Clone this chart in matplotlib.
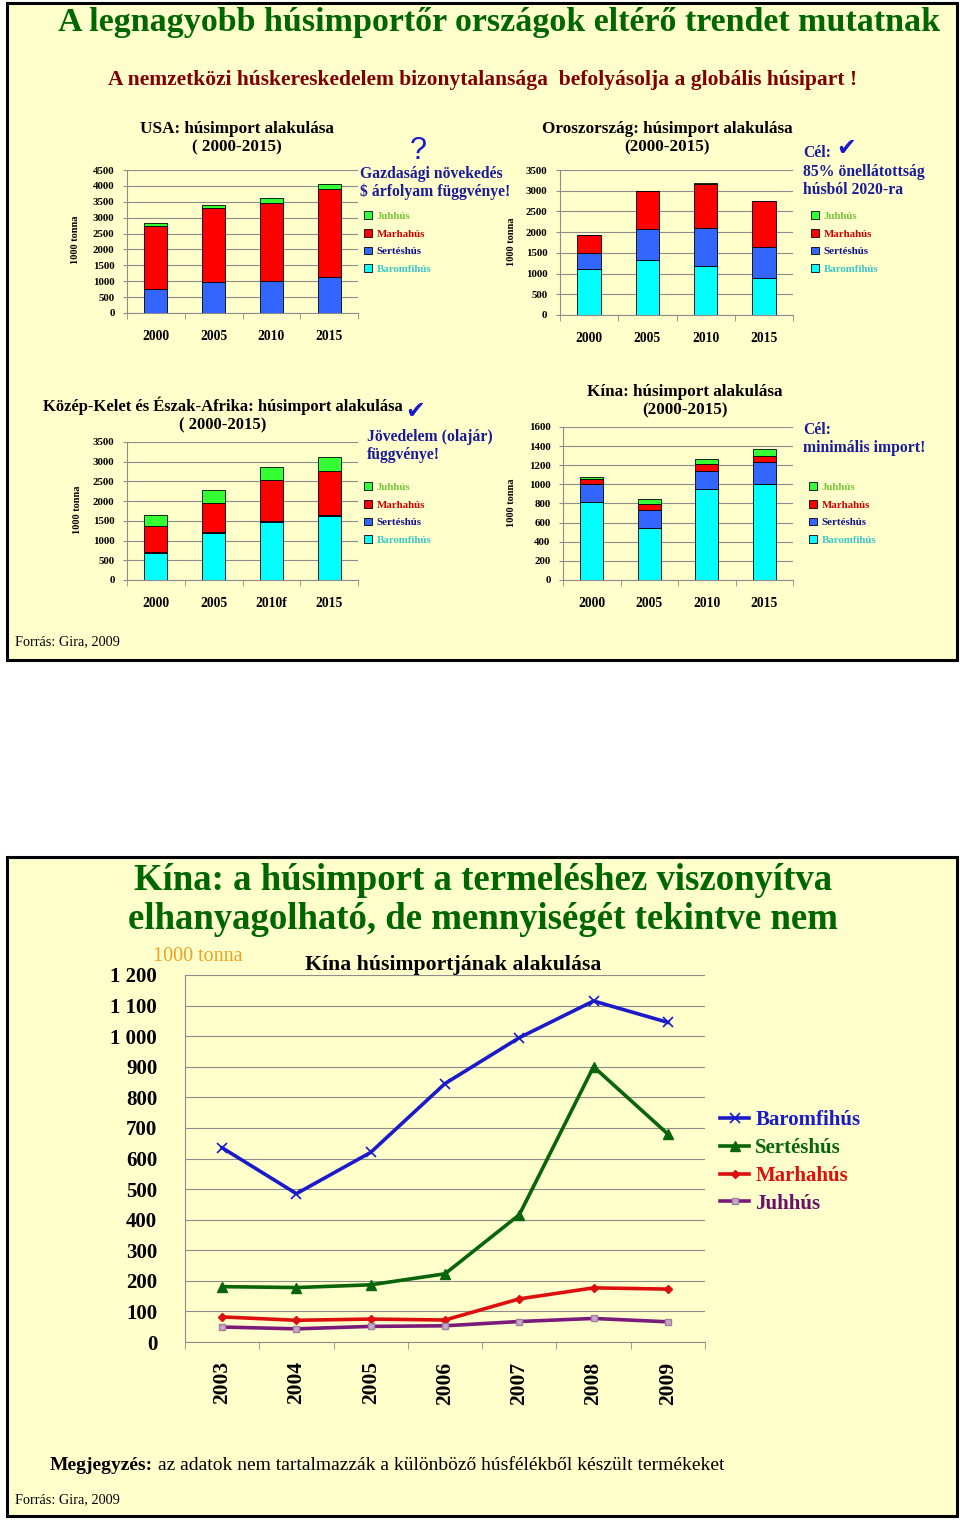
import matplotlib
matplotlib.use("Agg")
import matplotlib.pyplot as plt
from matplotlib.patches import Rectangle, Patch
from matplotlib.ticker import FuncFormatter
import numpy as np

plt.rcParams['font.family'] = ['Liberation Serif', 'DejaVu Sans']

W, H = 960, 1522

# Stacked bar data (1000 tonna)
bar_years = ['2000', '2005', '2010', '2015']
mena_years = ['2000', '2005', '2010f', '2015']
meat_names = ['Baromfihús', 'Sertéshús', 'Marhahús', 'Juhhús']

usa_baromfi = [0, 0, 0, 0]
usa_sertes = [750, 980, 1000, 1140]
usa_marha = [1980, 2310, 2470, 2750]
usa_juh = [100, 110, 140, 160]

ru_baromfi = [1100, 1320, 1190, 900]
ru_sertes = [400, 760, 920, 750]
ru_marha = [440, 920, 1060, 1110]
ru_juh = [0, 0, 10, 0]

mena_baromfi = [680, 1200, 1470, 1620]
mena_sertes = [20, 20, 20, 40]
mena_marha = [660, 740, 1040, 1100]
mena_juh = [280, 310, 340, 370]

cn_baromfi = [820, 540, 950, 1000]
cn_sertes = [180, 190, 190, 230]
cn_marha = [60, 60, 70, 70]
cn_juh = [20, 60, 60, 70]

# Line chart data: China meat import 2003-2009
line_years = ['2003', '2004', '2005', '2006', '2007', '2008', '2009']
line_baromfi = [635, 485, 620, 845, 995, 1115, 1045]
line_sertes = [181, 178, 187, 223, 416, 900, 680]
line_marha = [82, 71, 75, 72, 141, 177, 173]
line_juh = [49, 43, 51, 53, 67, 77, 66]

bar_colors = ['#00FFFF', '#3366FF', '#FF0000', '#33FF33']
label_colors = {'Juhhús': '#77C83A', 'Marhahús': '#D00000',
                'Sertéshús': '#10108C', 'Baromfihús': '#3CC8C8'}
bg = '#FFFFCC'
grid_c = '#8C8C8C'
blue_txt = '#1A1A9C'

fig = plt.figure(figsize=(W / 100, H / 100), dpi=100)
fig.patch.set_facecolor('white')

# panels
for (x0, y0, x1, y1) in [(7, 3, 957, 660), (7, 857, 957, 1516)]:
    fig.patches.append(Rectangle((x0 / W, 1 - y1 / H), (x1 - x0) / W, (y1 - y0) / H,
                                 transform=fig.transFigure, facecolor=bg,
                                 edgecolor='black', linewidth=2.2, zorder=-10))


def ftext(x, y, s, **kw):
    kw.setdefault('ha', 'center')
    kw.setdefault('va', 'center')
    return fig.text(x / W, 1 - y / H, s, **kw)


def make_ax(left, top, right, bottom):
    return fig.add_axes([left / W, 1 - bottom / H, (right - left) / W, (bottom - top) / H])


def stacked(ax, cats, series, ymax, step, xpad):
    x = np.arange(len(cats))
    bottom = np.zeros(len(cats))
    for vals, c in zip(series, bar_colors):
        ax.bar(x, vals, width=0.4, bottom=bottom, color=c, edgecolor='black',
               linewidth=0.6, zorder=3)
        bottom += np.array(vals)
    ax.set_xlim(-0.5, len(cats) - 0.5)
    ax.set_ylim(0, ymax)
    ax.set_yticks(np.arange(0, ymax + 1, step))
    ax.set_xticks(x)
    ax.set_xticklabels(cats, fontsize=9.8, fontweight='bold')
    ax.set_xticks(np.arange(-0.5, len(cats)), minor=True)
    ax.tick_params(axis='x', which='major', length=0, pad=xpad)
    ax.tick_params(axis='x', which='minor', length=4, color=grid_c)
    ax.tick_params(axis='y', length=3, color=grid_c, labelsize=7.8, pad=6)
    for t in ax.get_yticklabels():
        t.set_fontweight('bold')
    ax.set_facecolor('none')
    ax.grid(axis='y', color=grid_c, linewidth=0.8, zorder=0)
    for s in ['top', 'right']:
        ax.spines[s].set_visible(False)
    for s in ['left', 'bottom']:
        ax.spines[s].set_color(grid_c)
    ax.set_axisbelow(True)


def bar_legend(x, y):
    order = ['Juhhús', 'Marhahús', 'Sertéshús', 'Baromfihús']
    cmap = dict(zip(meat_names, bar_colors))
    handles = [Patch(facecolor=cmap[n], edgecolor='black', linewidth=0.6) for n in order]
    leg = fig.legend(handles, order, loc='upper left', bbox_to_anchor=(x / W, 1 - y / H),
                     frameon=False, prop={'weight': 'bold', 'size': 7.8},
                     handlelength=0.75, handleheight=0.75, handletextpad=0.4,
                     labelspacing=0.74, borderpad=0, borderaxespad=0)
    for t in leg.get_texts():
        t.set_color(label_colors[t.get_text()])


# titles
ftext(499, 23, 'A legnagyobb húsimportőr országok eltérő trendet mutatnak',
      color='#006600', fontsize=24.5, fontweight='bold')
ftext(483, 80, 'A nemzetközi húskereskedelem bizonytalansága  befolyásolja a globális húsipart !',
      color='#800000', fontsize=15.5, fontweight='bold')

# USA
ax = make_ax(127, 170, 358, 313)
stacked(ax, bar_years, [usa_baromfi, usa_sertes, usa_marha, usa_juh], 4500, 500, 12)
ftext(237, 138, 'USA: húsimport alakulása\n( 2000-2015)', fontsize=12.3,
      fontweight='bold', linespacing=1.2)
ftext(75, 240, '1000 tonna', rotation=90, fontsize=7.5, fontweight='bold')
ftext(418, 151, '?', color='#1A1AC8', fontsize=22, family='Liberation Sans')
ftext(360, 183, 'Gazdasági növekedés\n$ árfolyam függvénye!', ha='left',
      color=blue_txt, fontsize=11.3, fontweight='bold', linespacing=1.2)
bar_legend(364, 211)

# Russia
ax = make_ax(560, 170, 793, 315)
stacked(ax, bar_years, [ru_baromfi, ru_sertes, ru_marha, ru_juh], 3500, 500, 12)
ftext(667, 138, 'Oroszország: húsimport alakulása\n(2000-2015)', fontsize=12.3,
      fontweight='bold', linespacing=1.2)
ftext(512, 242, '1000 tonna', rotation=90, fontsize=7.5, fontweight='bold')
ftext(803, 153, 'Cél:', ha='left', color=blue_txt, fontsize=11.3, fontweight='bold')
ftext(846, 148, '✔', color='#1A1AC8', fontsize=17, family='DejaVu Sans')
ftext(803, 181, '85% önellátottság\nhúsból 2020-ra', ha='left', color=blue_txt,
      fontsize=11.3, fontweight='bold', linespacing=1.2)
bar_legend(811, 211)

# Middle East & North Africa
ax = make_ax(127, 442, 358, 580)
stacked(ax, mena_years, [mena_baromfi, mena_sertes, mena_marha, mena_juh], 3500, 500, 12)
ftext(223, 415, 'Közép-Kelet és Észak-Afrika: húsimport alakulása\n( 2000-2015)',
      fontsize=12.0, fontweight='bold', linespacing=1.2)
ftext(77, 510, '1000 tonna', rotation=90, fontsize=7.5, fontweight='bold')
ftext(415, 411, '✔', color='#1A1AC8', fontsize=17, family='DejaVu Sans')
ftext(367, 446, 'Jövedelem (olajár)\nfüggvénye!', ha='left', color=blue_txt,
      fontsize=11.3, fontweight='bold', linespacing=1.2)
bar_legend(364, 482)

# China
ax = make_ax(563, 427, 793, 580)
stacked(ax, bar_years, [cn_baromfi, cn_sertes, cn_marha, cn_juh], 1600, 200, 12)
ftext(685, 401, 'Kína: húsimport alakulása\n(2000-2015)', fontsize=12.3,
      fontweight='bold', linespacing=1.2)
ftext(511, 503, '1000 tonna', rotation=90, fontsize=7.5, fontweight='bold')
ftext(803, 439, 'Cél:\nminimális import!', ha='left', color=blue_txt,
      fontsize=11.3, fontweight='bold', linespacing=1.2)
bar_legend(809, 482)

ftext(15, 642, 'Forrás: Gira, 2009', ha='left', fontsize=10.3)

# bottom panel
ftext(483, 900, 'Kína: a húsimport a termeléshez viszonyítva\nelhanyagolható, de mennyiségét tekintve nem',
      color='#006600', fontsize=26.5, fontweight='bold', linespacing=1.17)
ftext(153, 957, '1000 tonna', ha='left', color='#F0A020', fontsize=14.5)
ftext(453, 965, 'Kína húsimportjának alakulása', fontsize=15.7, fontweight='bold')

ax = make_ax(185, 975, 705, 1342)
xl = np.arange(len(line_years))
ax.plot(xl, line_baromfi, color='#1A1AC8', linewidth=2.6, marker='x', markersize=7,
        markeredgewidth=1.2, label='Baromfihús', zorder=4)
ax.plot(xl, line_sertes, color='#0A640A', linewidth=2.6, marker='^', markersize=7,
        label='Sertéshús', zorder=4)
ax.plot(xl, line_marha, color='#DD0F0F', linewidth=2.6, marker='D', markersize=4,
        label='Marhahús', zorder=4)
ax.plot(xl, line_juh, color='#7A1A7A', linewidth=2.6, marker='s', markersize=4,
        markerfacecolor='#C8A8C8', markeredgecolor='#A080A0', label='Juhhús', zorder=4)
ax.set_xlim(-0.5, len(line_years) - 0.5)
ax.set_ylim(0, 1200)
ax.set_yticks(np.arange(0, 1201, 100))
ax.yaxis.set_major_formatter(FuncFormatter(lambda v, p: f'{int(v):,}'.replace(',', ' ')))
ax.set_xticks(xl)
ax.set_xticklabels(line_years, rotation=90, fontsize=15.5, fontweight='bold')
ax.set_xticks(np.arange(-0.5, len(line_years)), minor=True)
ax.tick_params(axis='x', which='major', length=0, pad=14)
ax.tick_params(axis='x', which='minor', length=5, color=grid_c)
ax.tick_params(axis='y', length=0, labelsize=15, pad=20)
for t in ax.get_yticklabels():
    t.set_fontweight('bold')
ax.set_facecolor('none')
ax.grid(axis='y', color=grid_c, linewidth=0.8, zorder=0)
for s in ['top', 'right']:
    ax.spines[s].set_visible(False)
for s in ['left', 'bottom']:
    ax.spines[s].set_color(grid_c)

leg = fig.legend(loc='upper left', bbox_to_anchor=(720 / W, 1 - 1110 / H), frameon=False,
                 prop={'weight': 'bold', 'size': 15}, handlelength=1.4,
                 handletextpad=0.3, labelspacing=0.38, borderpad=0, borderaxespad=0,
                 handles=ax.get_lines())
for t, c in zip(leg.get_texts(), ['#1A1AC8', '#0A640A', '#DD0F0F', '#6A106A']):
    t.set_color(c)

note_bold = ftext(50, 1466, 'Megjegyzés:', ha='left', fontsize=14, fontweight='bold')
renderer = fig.canvas.get_renderer()
bb = note_bold.get_window_extent(renderer)
fig.text((bb.x1 + 5) / W, 1 - 1466 / H,
         'az adatok nem tartalmazzák a különböző húsfélékből készült termékeket',
         fontsize=14, va='center')
ftext(15, 1500, 'Forrás: Gira, 2009', ha='left', fontsize=10.3)

fig.savefig('out.png', dpi=100, facecolor='white')
